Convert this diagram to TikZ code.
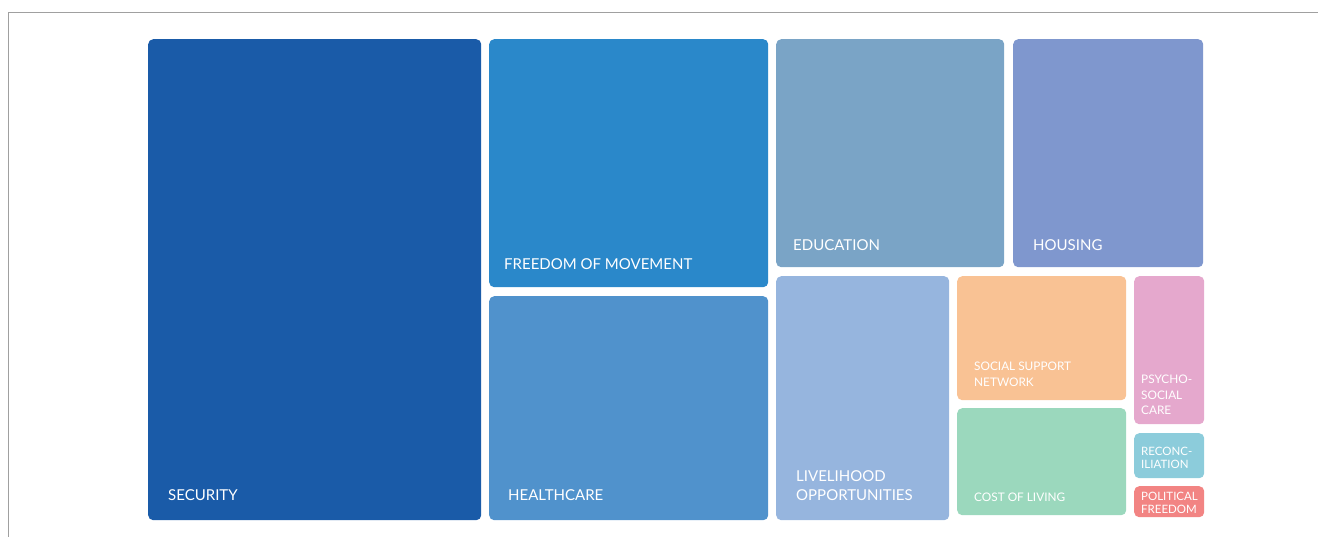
\documentclass[tikz,border=0pt]{standalone}
\usepackage{fontspec}
\setmainfont{Lato}
\usepackage{tikz}
\usetikzlibrary{calc}
\definecolor{secblue}{RGB}{26,91,168}
\definecolor{fomblue}{RGB}{42,136,202}
\definecolor{hcblue}{RGB}{80,146,204}
\definecolor{edublue}{RGB}{122,164,198}
\definecolor{houblue}{RGB}{127,151,206}
\definecolor{livblue}{RGB}{150,181,222}
\definecolor{ssnorange}{RGB}{249,194,148}
\definecolor{colgreen}{RGB}{155,216,189}
\definecolor{psypink}{RGB}{229,168,205}
\definecolor{reccyan}{RGB}{140,204,219}
\definecolor{polred}{RGB}{242,132,131}
\definecolor{framegray}{RGB}{160,160,160}
\tikzset{tile/.style={anchor=north west,inner sep=0pt,rounded corners=5pt}}
\tikzset{l/.style={anchor=base west,inner sep=0pt,align=left,text=white,font=\fontsize{15}{19}\selectfont}}
\tikzset{m/.style={anchor=base west,inner sep=0pt,align=left,text=white,font=\fontsize{11.8}{15.5}\selectfont}}
\tikzset{s/.style={anchor=base west,inner sep=0pt,align=left,text=white,font=\fontsize{11.5}{13}\selectfont}}

\begin{document}
\begin{tikzpicture}[x=1pt,y=-1pt]
          \useasboundingbox (0,0) rectangle (1318,537);
          \draw[framegray,line width=1.2pt] (8.5,537) -- (8.5,12.5) -- (1318,12.5);
          % big tiles
          \node[tile,fill=secblue,minimum width=333,minimum height=481] (sec) at (148,39) {};
          \node[tile,fill=fomblue,minimum width=279,minimum height=248] (fom) at (489,39) {};
          \node[tile,fill=hcblue,minimum width=279,minimum height=224] (hc) at (489,296) {};
          \node[tile,fill=edublue,minimum width=228,minimum height=228] (edu) at (776,39) {};
          \node[tile,fill=houblue,minimum width=190,minimum height=228] (hou) at (1013,39) {};
          \node[tile,fill=livblue,minimum width=173,minimum height=244] (liv) at (776,276) {};
          % small tiles
          \node[tile,fill=ssnorange,minimum width=169,minimum height=124] (ssn) at (957,276) {};
          \node[tile,fill=colgreen,minimum width=169,minimum height=107] (col) at (957,408) {};
          \node[tile,fill=psypink,minimum width=70,minimum height=148] (psy) at (1134,276) {};
          \node[tile,fill=reccyan,minimum width=70,minimum height=45] (rec) at (1134,433) {};
          \node[tile,fill=polred,minimum width=70,minimum height=31] (pol) at (1134,486) {};
          % labels (base = last line)
          \node[l] (secl) at (168,500.5) {SECURITY};
          \node[l] (foml) at (504,269.5) {FREEDOM OF MOVEMENT};
          \node[l] (hcl) at (508,500.5) {HEALTHCARE};
          \node[l] (edul) at (793,250.5) {EDUCATION};
          \node[l] (houl) at (1033,250.5) {HOUSING};
          \node[l] (livl) at (796,500.5) {LIVELIHOOD\\OPPORTUNITIES};
          \node[m] (ssnl) at (974,386.5) {SOCIAL SUPPORT\\NETWORK};
          \node[m] (coll) at (974,501.5) {COST OF LIVING};
          \node[m] (psyl) at (1141,414.5) {PSYCHO-\\SOCIAL\\CARE};
          \node[s] (recl) at (1141,468) {RECONC-\\ILIATION};
          \node[s] (poll) at (1141,513) {POLITICAL\\FREEDOM};
        \end{tikzpicture}
\end{document}
